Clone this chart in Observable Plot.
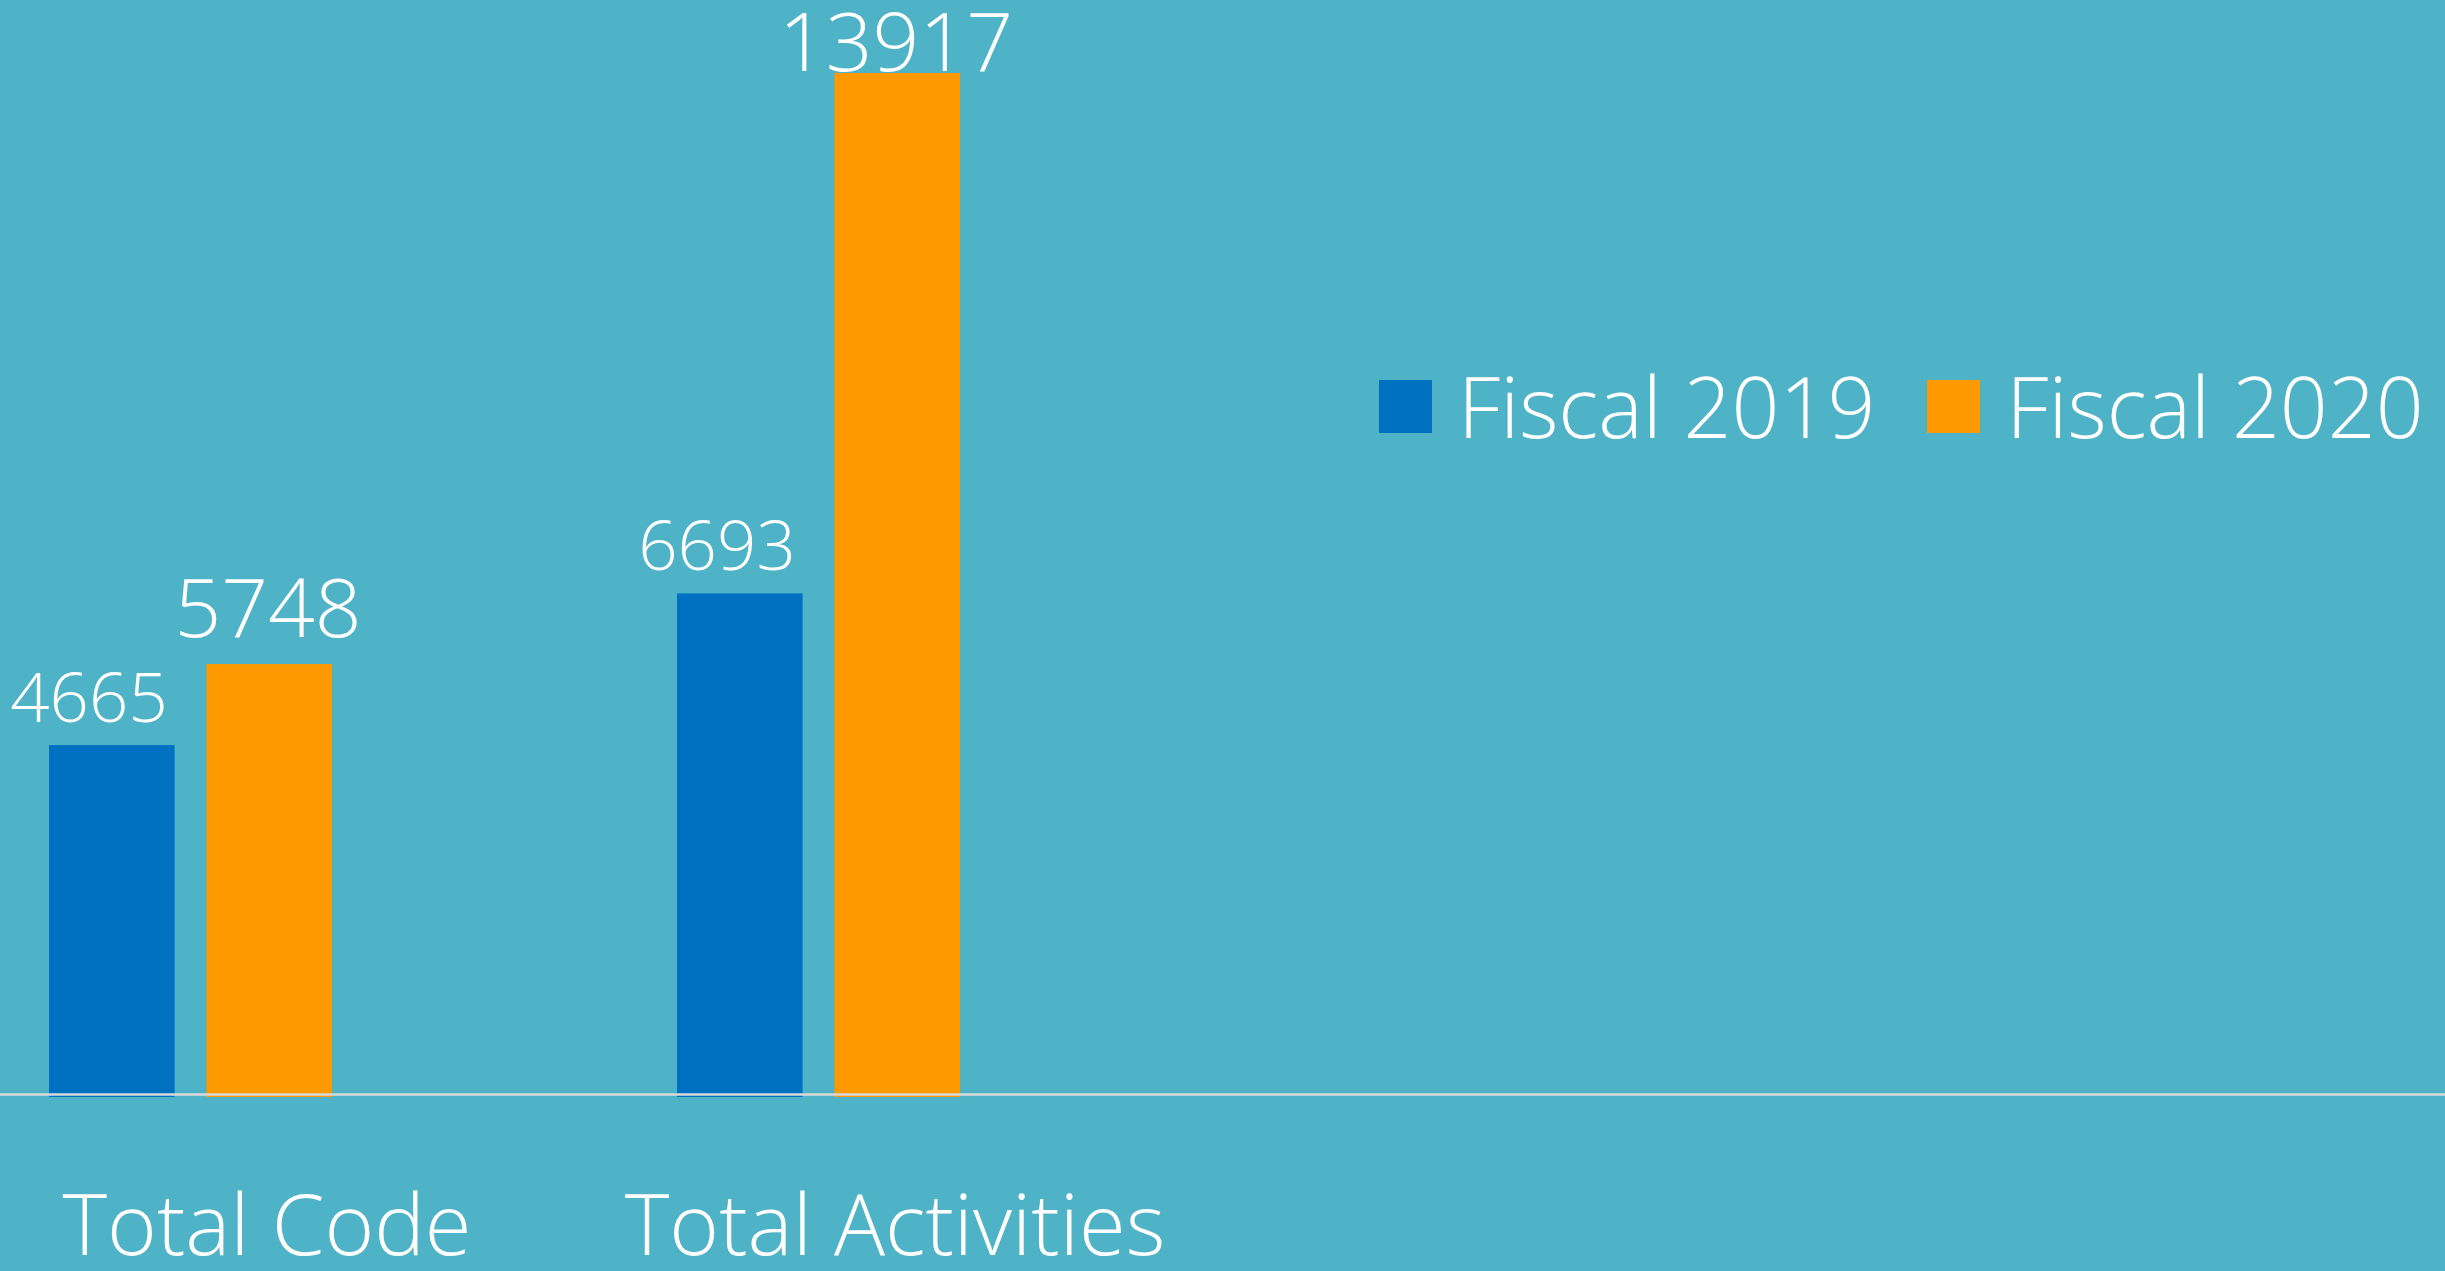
<!DOCTYPE html>
<html><head><meta charset="utf-8">
<script src="https://cdn.jsdelivr.net/npm/d3@7"></script>
<script src="https://cdn.jsdelivr.net/npm/@observablehq/plot@0.6"></script>
<style>
html,body{margin:0;padding:0;background:#4FB3C8;overflow:hidden}
#chart{position:relative;width:2445px;height:1271px}
#legend{position:absolute;left:1379px;top:364px;display:flex;align-items:center;font-family:"Open Sans",sans-serif;font-weight:300;font-size:84px;line-height:1;color:#fff;white-space:nowrap}
.item{display:flex;align-items:center;margin-right:52px}
.sw{width:53px;height:53px;margin-right:26px}
</style></head>
<body>
<div id="chart"><div id="legend"></div></div>
<script>
const categories = ["Total Code", "Total Activities"];
const seriesNames = ["Fiscal 2019", "Fiscal 2020"];
const fiscal2019 = [4665, 6693];
const fiscal2020 = [5748, 13917];
const seriesColors = ["#0070C0", "#FF9900"];
const yMax = 13650; // value-axis maximum; taller bars are clipped at the top

const rows2019 = categories.map((c, i) => ({category: c, value: fiscal2019[i]}));
const rows2020 = categories.map((c, i) => ({category: c, value: fiscal2020[i]}));

const font = "'Open Sans', sans-serif";
const label = d => String(d.value);
const chart = Plot.plot({
  width: 2445, height: 1271,
  marginTop: 73, marginBottom: 177, marginLeft: 0, marginRight: 0,
  style: {background: "transparent", fontFamily: font, color: "white", overflow: "visible"},
  x: {domain: categories, range: [48, 960], paddingInner: 0.55, paddingOuter: 0, axis: null},
  y: {domain: [0, yMax], clamp: true, axis: null},
  marks: [
    Plot.barY(rows2019, {x: "category", y: "value", fill: seriesColors[0], insetRight: 157.4, insetBottom: -3}),
    Plot.barY(rows2020, {x: "category", y: "value", fill: seriesColors[1], insetLeft: 157.4, insetBottom: -3}),
    Plot.ruleY([0], {stroke: "#D9D9D9", strokeWidth: 2.5}),
    Plot.text(rows2019, {x: "category", y: "value", text: label, dx: -102, dy: -24, lineAnchor: "bottom", fontSize: 69, fontWeight: 300, fill: "white"}),
    Plot.text(rows2020, {filter: d => d.value <= yMax, x: "category", y: "value", text: label, dx: 77, dy: -28, lineAnchor: "bottom", fontSize: 82, fontWeight: 300, fill: "white"}),
    Plot.text(rows2020, {filter: d => d.value > yMax, x: "category", y: "value", text: label, dx: 77, dy: -3, lineAnchor: "bottom", fontSize: 82, fontWeight: 300, fill: "white"}),
    Plot.text(categories, {x: d => d, text: d => d, frameAnchor: "bottom", dx: 76, dy: 160, lineAnchor: "bottom", fontSize: 85, fontWeight: 300, fill: "white"})
  ]
});
document.getElementById("chart").prepend(chart);

const legend = document.getElementById("legend");
seriesNames.forEach((name, i) => {
  const item = document.createElement("div");
  item.className = "item";
  const sw = document.createElement("div");
  sw.className = "sw";
  sw.style.background = seriesColors[i];
  const text = document.createElement("span");
  text.textContent = name;
  item.append(sw, text);
  legend.append(item);
});
</script>
</body></html>
